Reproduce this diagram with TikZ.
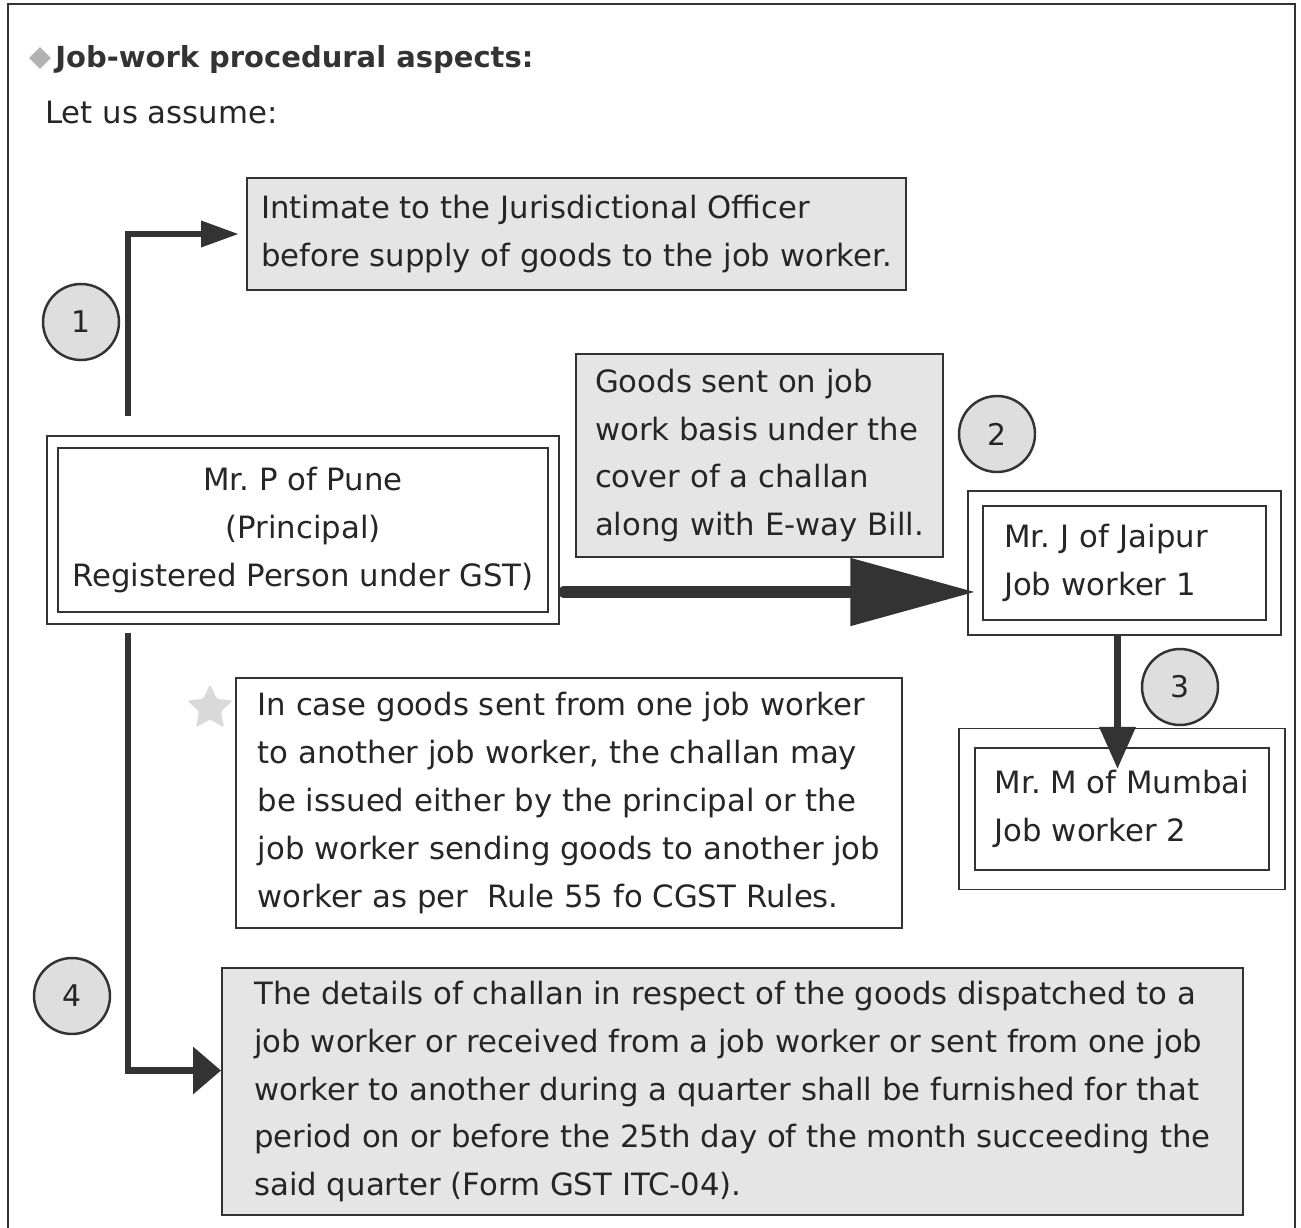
\documentclass[tikz,border=0pt]{standalone}
\usepackage{fontspec}
\setmainfont{DejaVu Sans}
\usepackage{tikz}
\usetikzlibrary{arrows.meta,positioning,fit,shapes.geometric}
\definecolor{jwink}{HTML}{262626}
\definecolor{jwline}{HTML}{333333}
\definecolor{jwgrey}{HTML}{E5E5E5}
\definecolor{jwdisc}{HTML}{DEDEDE}
\definecolor{jwstar}{HTML}{DADADA}
\tikzset{
  boxtext/.style={
    text=jwink,
    font=\fontsize{17.5}{27.3}\selectfont,
    inner sep=0pt
  },
  greybox/.style={
    boxtext,
    draw=jwline,
    fill=jwgrey,
    line width=1.2pt,
    align=left
  },
  whitebox/.style={greybox, fill=white},
  innerbox/.style={boxtext, draw=jwline, line width=1.5pt, fill=white},
  outerframe/.style={draw=jwline, line width=0.9pt, inner sep=0pt},
  stepdisc/.style={
    circle,
    draw=jwline,
    fill=jwdisc,
    line width=1.4pt,
    minimum size=1.52cm,
    text=jwink,
    font=\fontsize{17}{20}\selectfont
  },
  elbowarrow/.style={-{Triangle[length=0.76cm, width=0.5cm]}, line width=3.8pt, draw=jwline},
  downarrow/.style={-{Triangle[length=0.84cm, width=0.7cm]}, line width=3.8pt, draw=jwline},
  sidearrow/.style={-{Triangle[length=0.56cm, width=0.92cm]}, line width=3.8pt, draw=jwline},
  bigarrow/.style={-{Triangle[length=2.5cm, width=1.3cm]}, line width=6.5pt, draw=jwline, line cap=round}
}

\begin{document}
\begin{tikzpicture}[x=0.02cm, y=-0.02cm]
  \useasboundingbox (0,0) rectangle (1301,1227);
  \draw[jwline, line width=1pt] (8,1240) |- (1295,4) -- (1295,1240);

  % heading
  \node[diamond, fill=gray!60, minimum size=0.44cm, inner sep=0pt] (bullet) at (40,58) {};
  \node[anchor=west, text=jwline, font=\fontsize{16.5}{20}\selectfont\bfseries, inner sep=0pt] (title) at (55,60) {Job-work procedural aspects:};
  \node[anchor=west, text=jwink, font=\fontsize{17.5}{22}\selectfont, inner sep=0pt] (assume) at (45,113) {Let us assume:};

  % boxes
  \node[greybox, minimum width=13.18cm, minimum height=2.24cm] (intimate) at (576.5,234)
    {Intimate to the Jurisdictional Officer\\before supply of goods to the job worker.};
  \node[greybox, minimum width=7.34cm, minimum height=4.06cm] (goods) at (759.5,455.5)
    {Goods sent on job\\work basis under the\\cover of a challan\\along with E-way Bill.};
  \node[innerbox, align=center, minimum width=9.8cm, minimum height=3.28cm] (pune) at (303,530)
    {Mr.\ P of Pune\\(Principal)\\Registered Person under GST)};
  \node[outerframe, fit=(pune), inner xsep=0.2cm, inner ysep=0.21cm] (puneframe) {};
  \node[innerbox, align=left, text width=4.82cm, minimum width=5.66cm, minimum height=2.28cm] (jaipur) at (1124.5,563)
    {Mr.\ J of Jaipur\\Job worker 1};
  \node[outerframe, fit=(jaipur), inner sep=0.27cm] (jaipurframe) {};
  \node[innerbox, align=left, minimum width=5.88cm, minimum height=2.44cm] (mumbai) at (1122,809)
    {Mr.\ M of Mumbai\\Job worker 2};
  \node[outerframe, fit=(mumbai), inner xsep=0.29cm, inner ysep=0.36cm] (mumbaiframe) {};
  \node[star, star points=5, star point ratio=2.1, fill=jwstar, minimum size=0.96cm, inner sep=0pt, rounded corners=1pt] (note) at (210,708) {};
  \node[whitebox, minimum width=13.32cm, minimum height=5cm] (incase) at (569,803)
    {In case goods sent from one job worker\\to another job worker, the challan may\\be issued either by the principal or the\\job worker sending goods to another job\\worker as per~ Rule 55 fo CGST Rules.};
  \node[greybox, minimum width=20.42cm, minimum height=4.94cm] (details) at (732.5,1091.5)
    {The details of challan in respect of the goods dispatched to a\\job worker or received from a job worker or sent from one job\\worker to another during a quarter shall be furnished for that\\period on or before the 25th day of the month succeeding the\\said quarter (Form GST ITC-04).};

  % connectors
  \draw[elbowarrow] ([xshift=1.64cm, yshift=0.38cm]puneframe.north west) |- ([xshift=-0.14cm]intimate.west);
  \draw[bigarrow, shorten >=-0.16cm] ([xshift=0.08cm, yshift=-1.24cm]puneframe.east) -- ([yshift=-1.24cm]puneframe.east -| jaipurframe.west);
  \draw[downarrow] ([xshift=-0.14cm]jaipurframe.south) -- ([xshift=-0.14cm, yshift=-0.82cm]jaipurframe.south |- mumbaiframe.north);
  \draw[sidearrow] ([xshift=1.64cm, yshift=-0.16cm]puneframe.south west) |- ([yshift=0.42cm]details.west);

  % step numbers
  \node[stepdisc] (one) at (81,322) {1};
  \node[stepdisc] (two) at (997,434) {2};
  \node[stepdisc] (three) at (1180,687) {3};
  \node[stepdisc] (four) at (72,996) {4};
\end{tikzpicture}
\end{document}
